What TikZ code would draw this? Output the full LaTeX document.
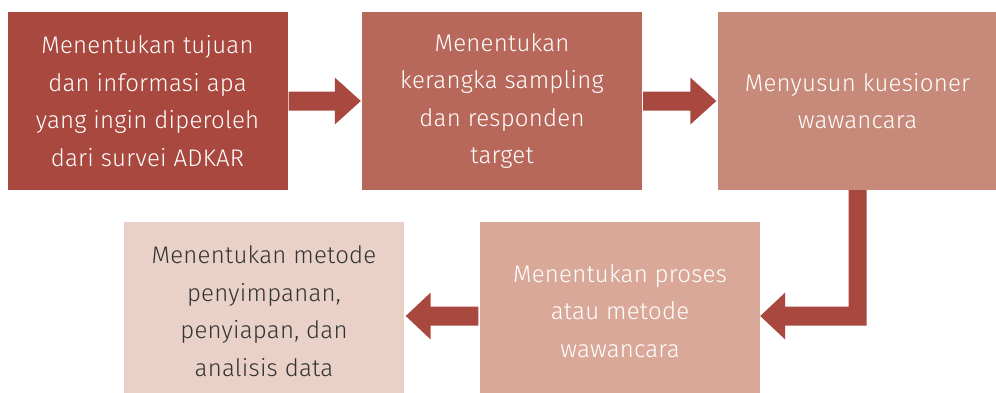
\documentclass[tikz,border=0pt]{standalone}
\usepackage{fontspec}
\setmainfont{Fira Sans Light}[LetterSpace=1]
\usetikzlibrary{calc}
\definecolor{cA}{HTML}{A9483F}
\definecolor{cB}{HTML}{B7685B}
\definecolor{cC}{HTML}{C78A7A}
\definecolor{cD}{HTML}{D9A898}
\definecolor{cE}{HTML}{E9D1C7}
\definecolor{tx}{HTML}{333333}
\tikzset{
  box/.style={minimum width=280pt, minimum height=178pt, inner sep=0pt, align=center,
    font=\fontsize{24}{37.5}\selectfont, text=white},
  blockarrow/.style={fill=cA, draw=none}
}
\begin{document}
\begin{tikzpicture}[x=1pt,y=-1pt]
\useasboundingbox (0,0) rectangle (996,392);
\begin{scope}
\clip (0,0) rectangle (996,392);
\node[box, fill=cA] (b1) at (147.5,101) {Menentukan tujuan\\dan informasi apa\\yang ingin diperoleh\\dari survei ADKAR};
\node[box, fill=cB] (b2) at (502,101) {Menentukan\\kerangka sampling\\dan responden\\target};
\node[box, fill=cC] (b3) at (857.5,101) {Menyusun kuesioner\\wawancara};
\node[box, fill=cD] (b4) at (620,311) {Menentukan proses\\atau metode\\wawancara};
\node[box, fill=cE, text=tx] (b5) at (264,311) {Menentukan metode\\penyimpanan,\\penyiapan, dan\\analisis data};
\end{scope}
% arrow b1 -> b2
\fill[blockarrow] ($(b1.east)+(1,-9.5)$) -- ($(b2.west)+(-27,-9.5)$) -- ($(b2.west)+(-27,-23.5)$)
  -- ($(b2.west)+(-1,0)$) -- ($(b2.west)+(-27,23.5)$) -- ($(b2.west)+(-27,9.5)$) -- ($(b1.east)+(1,9.5)$) -- cycle;
% arrow b2 -> b3
\fill[blockarrow] ($(b2.east)+(1,-9.5)$) -- ($(b3.west)+(-27,-9.5)$) -- ($(b3.west)+(-27,-23.5)$)
  -- ($(b3.west)+(-1,0)$) -- ($(b3.west)+(-27,23.5)$) -- ($(b3.west)+(-27,9.5)$) -- ($(b2.east)+(1,9.5)$) -- cycle;
% elbow arrow b3 -> b4
\coordinate (tip4) at ($(b4.east)+(0,5)$);
\fill[blockarrow] ($(b3.south)+(-9,0)$) -- ($(b3.south |- tip4)+(-9,-9.5)$)
  -- ($(tip4)+(25,-9.5)$) -- ($(tip4)+(25,-23.5)$) -- (tip4) -- ($(tip4)+(25,23.5)$) -- ($(tip4)+(25,9.5)$)
  -- ($(b3.south |- tip4)+(9,9.5)$) -- ($(b3.south)+(9,0)$) -- cycle;
% arrow b4 -> b5
\coordinate (tip5) at ($(b5.east)+(1.5,5)$);
\fill[blockarrow] ($(b4.west)+(-1.5,-4.5)$) -- ($(tip5)+(25,-9.5)$) -- ($(tip5)+(25,-23.5)$)
  -- (tip5) -- ($(tip5)+(25,23.5)$) -- ($(tip5)+(25,9.5)$) -- ($(b4.west)+(-1.5,14.5)$) -- cycle;
\end{tikzpicture}
\end{document}
